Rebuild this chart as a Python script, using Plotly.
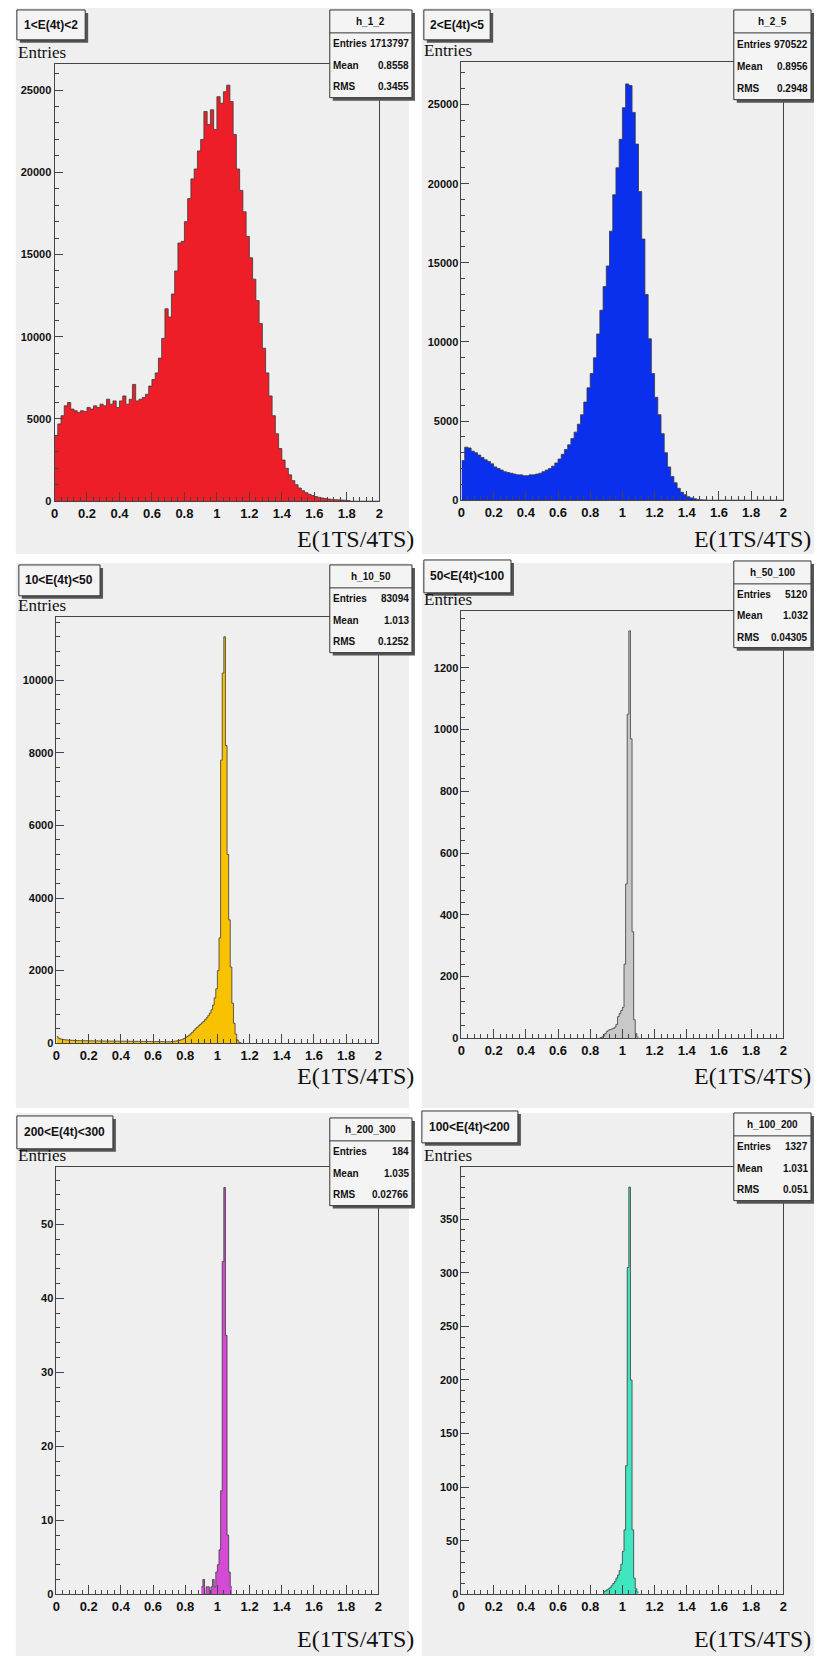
import numpy as np
import plotly.graph_objects as go

# ---------------- data ----------------
titles = ["1<E(4t)<2", "2<E(4t)<5", "10<E(4t)<50", "50<E(4t)<100", "200<E(4t)<300", "100<E(4t)<200"]
hist_names = ["h_1_2", "h_2_5", "h_10_50", "h_50_100", "h_200_300", "h_100_200"]
stat_entries = ["1713797", "970522", "83094", "5120", "184", "1327"]
stat_means = ["0.8558", "0.8956", "1.013", "1.032", "1.035", "1.031"]
stat_rms = ["0.3455", "0.2948", "0.1252", "0.04305", "0.02766", "0.051"]

bin_lo = [0.0, 0.0, 0.0, 0.86, 0.90, 0.88]
bin_w = [0.02, 0.02, 0.01, 0.01, 0.01, 0.01]

counts_1 = [4000, 4700, 5200, 5800, 6000, 5600, 5500, 5400, 5500, 5450,
            5700, 5600, 5800, 5700, 5900, 5800, 6200, 5900, 6100, 5700,
            6100, 6400, 5900, 6200, 7100, 6100, 6200, 6300, 6500, 7000,
            7400, 7800, 8700, 9900, 11700, 11200, 12600, 14000, 15700, 15800,
            17000, 18400, 19600, 20200, 21300, 22000, 23700, 22900, 23800, 22600,
            24600, 24200, 24900, 25300, 24300, 22300, 20200, 18900, 17600, 16100,
            14800, 13500, 12200, 10800, 9300, 7800, 6400, 5200, 4100, 3200,
            2500, 2000, 1600, 1250, 1000, 800, 640, 520, 420, 340,
            280, 230, 190, 160, 130, 110, 90, 80, 70, 60,
            40, 0, 0, 0, 0, 0, 0, 0, 0, 0]

counts_2 = [2500, 3350, 3300, 3100, 3000, 2850, 2700, 2550, 2450, 2300,
            2100, 2000, 1900, 1800, 1750, 1700, 1650, 1600, 1600, 1550,
            1550, 1600, 1600, 1650, 1700, 1800, 1900, 2000, 2150, 2350,
            2600, 2900, 3200, 3500, 3900, 4300, 4800, 5400, 6200, 7100,
            8000, 9000, 10500, 12000, 13500, 14800, 17000, 19300, 21000, 22800,
            24800, 26300, 26200, 24500, 22500, 19500, 16500, 13000, 10200, 8000,
            6500, 5400, 4200, 3000, 2100, 1500, 1100, 750, 500, 350,
            220, 140, 90, 50, 30, 20, 0, 0, 0, 0,
            0, 0, 0, 0, 0, 0, 0, 0, 0, 0,
            0, 0, 0, 0, 0, 0, 0, 0, 0, 0]

counts_3 = [180, 140, 120, 110, 100, 95, 90, 85, 85, 80,
            78, 75, 74, 72, 70, 71, 69, 68, 70, 67,
            66, 65, 67, 64, 63, 65, 62, 61, 63, 60,
            60, 59, 61, 58, 57, 59, 58, 56, 57, 55,
            56, 55, 54, 56, 53, 54, 52, 53, 52, 51,
            52, 50, 51, 50, 49, 50, 48, 49, 48, 47,
            47, 46, 47, 45, 44, 45, 43, 42, 42, 41,
            40, 45, 50, 55, 60, 70, 80, 95, 110, 130,
            160, 190, 220, 260, 300, 350, 400, 440, 480, 520,
            560, 600, 650, 700, 760, 830, 920, 1050, 1250, 1500,
            2000, 2900, 7800, 10200, 11200, 8200, 5200, 3400, 2100, 1100,
            550, 250, 90, 30, 10]

counts_4 = [2, 4, 8, 15, 22, 26, 28, 30, 32, 36,
            45, 70, 80, 90, 100, 240, 500, 1050, 1320, 970,
            345, 60, 15, 4]

counts_5 = [1, 2, 0, 1, 1, 0, 1, 2, 1, 3,
            4, 6, 14, 45, 55, 35, 8, 3, 1]

counts_6 = [2, 3, 4, 5, 6, 8, 10, 12, 15, 18,
            22, 28, 40, 60, 120, 305, 380, 200, 60, 15,
            5, 2]

all_counts = [counts_1, counts_2, counts_3, counts_4, counts_5, counts_6]

y_max = [26600, 27700, 11750, 1385, 57.8, 399]
y_dtick = [5000, 5000, 2000, 200, 10, 50]
y_minor = [1000, 1000, 400, 40, 2, 10]
x_range = [0, 2]
x_dtick = 0.2
x_minor = 0.04

# ---------------- styles / layout ----------------
fill_colors = ["#ee1e28", "#0a30ee", "#f8c200", "#c8c8c8", "#d54ad5", "#40e6bf"]

W, H = 818, 1662
def px(x):
    return x / W
def py(y):
    return 1 - y / H

frames = [(51, 379, 64, 503), (462, 787, 62, 502),
          (53, 378, 619, 1047), (462, 787, 613, 1042),
          (53, 378, 1171, 1600), (462, 787, 1171, 1600)]
canvases = [(12, 409, 8, 556), (422, 818, 8, 556),
            (12, 409, 565, 1112), (422, 818, 565, 1112),
            (12, 409, 1117, 1662), (422, 818, 1117, 1662)]
title_boxes = [(13, 82, 10, 40), (424, 491, 10, 40),
               (15, 97, 567, 598), (424, 512, 562, 595),
               (13, 110, 1120, 1153), (422, 519, 1115, 1147)]
stat_boxes = [(329, 412, 10, 98), (737, 815, 10, 100),
              (329, 412, 567, 655), (737, 815, 563, 650),
              (329, 412, 1122, 1210), (737, 815, 1117, 1205)]
xlabel_pos = [(415, 541), (816, 541), (415, 1080), (816, 1080), (415, 1645), (816, 1645)]

sans = "Liberation Sans, Arial, sans-serif"
serif = "Liberation Serif, DejaVu Serif, Times New Roman, serif"
axis_col = "#444444"

fig = go.Figure()
shapes = []
annotations = []

for i in range(6):
    n = i + 1
    counts = all_counts[i]
    edges = bin_lo[i] + bin_w[i] * np.arange(len(counts) + 1)
    yvals = list(counts) + [counts[-1]]
    fig.add_trace(go.Scatter(
        x=edges, y=yvals, mode="lines", line_shape="hv",
        line=dict(color="#3a3a3a", width=0.8),
        fill="tozeroy", fillcolor=fill_colors[i],
        xaxis=f"x{n}", yaxis=f"y{n}", hoverinfo="skip", showlegend=False))

    fx0, fx1, fy0, fy1 = frames[i]
    xa = dict(domain=[px(fx0), px(fx1)], range=x_range, anchor=f"y{n}",
              dtick=x_dtick, tick0=0, ticks="inside", ticklen=9, tickwidth=1,
              tickcolor=axis_col, showgrid=False, zeroline=False,
              showline=True, linecolor=axis_col, linewidth=1, mirror=True,
              tickfont=dict(family=sans, size=13, color="#111", weight="bold"),
              minor=dict(dtick=x_minor, ticks="inside", ticklen=4, tickcolor=axis_col, showgrid=False),
              fixedrange=True)
    ya = dict(domain=[py(fy1), py(fy0)], range=[0, y_max[i]], anchor=f"x{n}",
              dtick=y_dtick[i], tick0=0, ticks="inside", ticklen=8, tickwidth=1,
              tickcolor=axis_col, showgrid=False, zeroline=False, tickformat="d",
              showline=True, linecolor=axis_col, linewidth=1, mirror=True,
              tickfont=dict(family=sans, size=11, color="#111", weight="bold"),
              minor=dict(dtick=y_minor[i], ticks="inside", ticklen=4, tickcolor=axis_col, showgrid=False),
              fixedrange=True)
    fig.layout[f"xaxis{n}" if n > 1 else "xaxis"] = xa
    fig.layout[f"yaxis{n}" if n > 1 else "yaxis"] = ya

    # canvas background
    cx0, cx1, cy0, cy1 = canvases[i]
    shapes.append(dict(type="rect", xref="paper", yref="paper", layer="below",
                       x0=px(cx0), x1=px(cx1), y0=py(cy1), y1=py(cy0),
                       fillcolor="#efefef", line=dict(width=0)))

    # title box with shadow
    tx0, tx1, ty0, ty1 = title_boxes[i]
    shapes.append(dict(type="rect", xref="paper", yref="paper", layer="above",
                       x0=px(tx0 + 3), x1=px(tx1 + 3), y0=py(ty1 + 3), y1=py(ty0 + 3),
                       fillcolor="#555555", line=dict(width=0)))
    shapes.append(dict(type="rect", xref="paper", yref="paper", layer="above",
                       x0=px(tx0), x1=px(tx1), y0=py(ty1), y1=py(ty0),
                       fillcolor="#f4f4f4", line=dict(color="#333333", width=1)))
    annotations.append(dict(xref="paper", yref="paper", x=px((tx0 + tx1) / 2), y=py((ty0 + ty1) / 2),
                            text=titles[i], showarrow=False, xanchor="center", yanchor="middle",
                            font=dict(family=sans, size=12, color="#111", weight="bold")))

    # stats box with shadow
    sx0, sx1, sy0, sy1 = stat_boxes[i]
    shapes.append(dict(type="rect", xref="paper", yref="paper", layer="above",
                       x0=px(sx0 + 3), x1=px(sx1 + 3), y0=py(sy1 + 3), y1=py(sy0 + 3),
                       fillcolor="#555555", line=dict(width=0)))
    shapes.append(dict(type="rect", xref="paper", yref="paper", layer="above",
                       x0=px(sx0), x1=px(sx1), y0=py(sy1), y1=py(sy0),
                       fillcolor="#f4f4f4", line=dict(color="#333333", width=1)))
    hh = 23
    shapes.append(dict(type="line", xref="paper", yref="paper", layer="above",
                       x0=px(sx0), x1=px(sx1), y0=py(sy0 + hh), y1=py(sy0 + hh),
                       line=dict(color="#333333", width=1)))
    annotations.append(dict(xref="paper", yref="paper", x=px((sx0 + sx1) / 2), y=py(sy0 + hh / 2),
                            text=hist_names[i], showarrow=False, xanchor="center", yanchor="middle",
                            font=dict(family=sans, size=10, color="#111", weight="bold")))
    rh = (sy1 - sy0 - hh) / 3
    for k, (lab, val) in enumerate([("Entries", stat_entries[i]), ("Mean", stat_means[i]), ("RMS", stat_rms[i])]):
        yy = py(sy0 + hh + (k + 0.5) * rh)
        annotations.append(dict(xref="paper", yref="paper", x=px(sx0 + 2), y=yy, text=lab,
                                showarrow=False, xanchor="left", yanchor="middle", borderpad=0,
                                font=dict(family=sans, size=10, color="#111", weight="bold")))
        annotations.append(dict(xref="paper", yref="paper", x=px(sx1 - 2), y=yy, text=val,
                                showarrow=False, xanchor="right", yanchor="middle", borderpad=0,
                                font=dict(family=sans, size=10, color="#111", weight="bold")))

    # axis titles
    annotations.append(dict(xref="paper", yref="paper", x=px(cx0 + 1), y=py(fy0 - 1),
                            text="Entries", showarrow=False, xanchor="left", yanchor="bottom",
                            borderpad=0, font=dict(family=serif, size=17, color="#111")))
    lx, ly = xlabel_pos[i]
    annotations.append(dict(xref="paper", yref="paper", x=px(lx), y=py(ly),
                            text="E(1TS/4TS)", showarrow=False, xanchor="right", yanchor="middle",
                            borderpad=0, font=dict(family=serif, size=24, color="#111")))

fig.update_layout(width=W, height=H, margin=dict(l=0, r=0, t=0, b=0),
                  paper_bgcolor="white", plot_bgcolor="rgba(0,0,0,0)",
                  shapes=shapes, annotations=annotations, showlegend=False)

fig.write_html("out.html", config={"displayModeBar": False, "staticPlot": True},
               post_script="document.body.style.margin='0';document.body.style.overflow='hidden';document.documentElement.style.overflow='hidden';")
